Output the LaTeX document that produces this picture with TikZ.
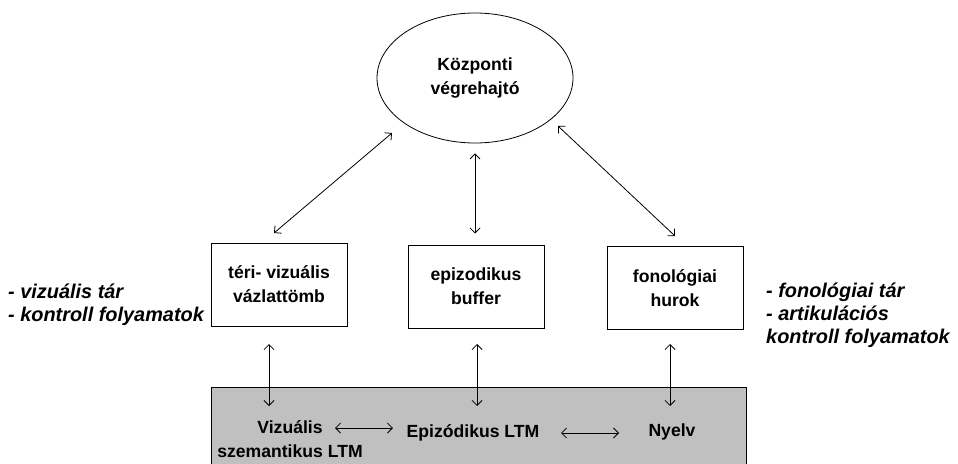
\documentclass[tikz,border=0pt]{standalone}
\usepackage{fontspec}
\setmainfont{Liberation Sans}
\usetikzlibrary{arrows.meta,shapes.geometric}
\definecolor{ltmgray}{RGB}{192,192,192}
\begin{document}
\begin{tikzpicture}[x=1pt,y=-1pt,
  every node/.style={font=\fontsize{17.6}{24}\selectfont\bfseries},
  box/.style={draw,line width=1pt,minimum width=136pt,minimum height=83pt,align=center,inner sep=0pt},
  lbl/.style={align=center,inner sep=0pt},
  note/.style={align=left,inner sep=0pt,font=\fontsize{19.9}{23}\selectfont\bfseries\itshape},
  biarrow/.style={line width=0.8pt,{Straight Barb[length=5pt,width=10pt]}-{Straight Barb[length=5pt,width=10pt]}}]
\clip (0,0) rectangle (958,463);
\fill[white] (0,0) rectangle (958,463);
% long-term memory band
\draw[fill=ltmgray,line width=1pt] (211,387) rectangle (746,480);
% central executive
\node[draw,ellipse,line width=0.8pt,minimum width=196pt,minimum height=130pt,lbl] (ce) at (475,78) {Központi\\végrehajtó};
% slave systems
\node[box] (vs) at (279,284.5) {téri- vizuális\\vázlattömb};
\node[box] (eb) at (476,286.5) {epizodikus\\buffer};
\node[box] (pl) at (675,288) {fonológiai\\hurok};
% LTM texts
\node[lbl] (vis) at (290,439.5) {Vizuális\\szemantikus LTM};
\node[lbl] (epi) at (473,433) {Epizódikus LTM};
\node[lbl] (ny) at (672,432) {Nyelv};
% notes
\node[note,anchor=west] (nl) at (8,304.5) {- vizuális tár\\- kontroll folyamatok};
\node[note,anchor=west] (nr) at (766,315) {- fonológiai tár\\- artikulációs\\kontroll folyamatok};
% arrows to central executive
\coordinate (d1a) at (274,233);
\coordinate (d1b) at (392,133);
\draw[biarrow] (d1a) -- (d1b);
\coordinate (d2a) at (675,236);
\coordinate (d2b) at (558,126);
\draw[biarrow] (d2a) -- (d2b);
\draw[biarrow,shorten <=10pt,shorten >=11pt] (ce.south) -- (ce.south |- eb.north);
% arrows to LTM
\coordinate (v1) at (269,344);
\coordinate (v1b) at (269,406);
\draw[biarrow] (v1) -- (v1b);
\coordinate (v2) at (477,344);
\coordinate (v2b) at (477,406);
\draw[biarrow] (v2) -- (v2b);
\coordinate (v3) at (670,344);
\coordinate (v3b) at (670,406);
\draw[biarrow] (v3) -- (v3b);
% horizontal arrows
\coordinate (h1) at (335,428);
\draw[biarrow] (h1) -- (393,428);
\coordinate (h2) at (561,433);
\draw[biarrow] (h2) -- (619,433);
\end{tikzpicture}
\end{document}
